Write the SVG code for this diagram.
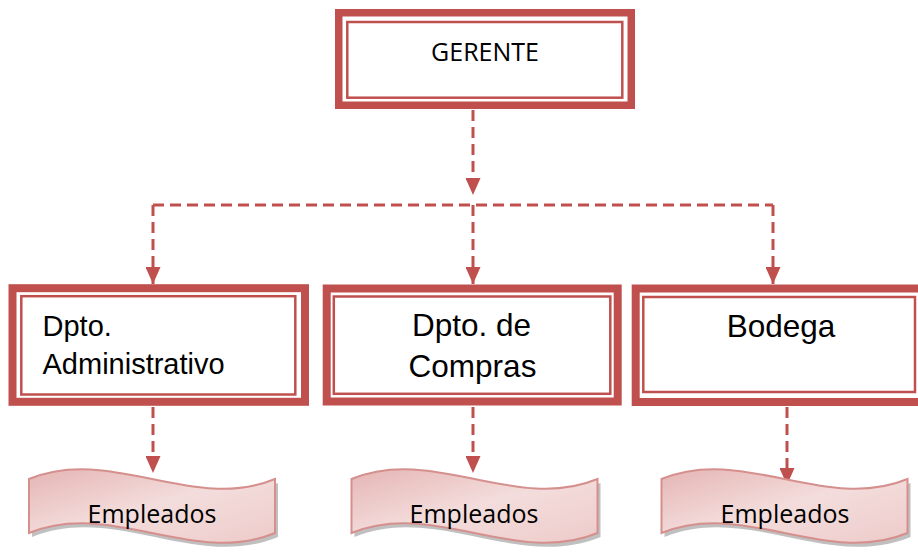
<svg xmlns="http://www.w3.org/2000/svg" width="918" height="553" viewBox="0 0 918 553">
<style>
.thick{fill:#fff;stroke:#C0504D;stroke-width:8}
.thin{fill:none;stroke:#C0504D;stroke-width:2.5}
.con{fill:none;stroke:#C0504D;stroke-width:3;stroke-dasharray:11 6}
.lbl{font-family:"Liberation Sans",Arial,sans-serif;fill:#000}
.cal{font-family:"Open Sans","Noto Sans",sans-serif;fill:#000;font-size:25px;text-anchor:middle}
.wave{fill:url(#pink);stroke:#D5908E;stroke-width:2}
.shadow{fill:#8c8c8c;opacity:0.55}
</style>
<defs>
<marker id="ah" viewBox="0 0 17 15" markerWidth="17" markerHeight="15" markerUnits="userSpaceOnUse" refX="17" refY="7.5" orient="auto">
<path d="M0,0 L17,7.5 L0,15 z" fill="#C0504D"/>
</marker>
<linearGradient id="pink" x1="0" y1="0" x2="1" y2="1">
<stop offset="0" stop-color="#E5B5B4"/>
<stop offset="0.5" stop-color="#F3DDDC"/>
<stop offset="1" stop-color="#EDCBCA"/>
</linearGradient>
<path id="wv" d="M0,9 C82,-25 164,43 246,9 L246,63 C164,97 82,29 0,63 Z"/>
</defs>

<g id="connectors">
<path class="con" d="M473,110 V195" marker-end="url(#ah)"/>
<path class="con" d="M153,205 H773"/>
<path class="con" d="M153,205 V284" marker-end="url(#ah)"/>
<path class="con" d="M473,205 V284" marker-end="url(#ah)"/>
<path class="con" d="M773,205 V284" marker-end="url(#ah)"/>
<path class="con" d="M153,407 V473" marker-end="url(#ah)"/>
<path class="con" d="M473,407 V473" marker-end="url(#ah)"/>
<path class="con" d="M787,407 V485" marker-end="url(#ah)"/>
</g>

<g id="gerente">
<rect class="thick" x="338.75" y="12.75" width="292.5" height="92.5" style="stroke-width:7.5"/>
<rect class="thin" x="347.3" y="22" width="275" height="75.7"/>
<text class="cal" x="485" y="61">GERENTE</text>
</g>

<g id="dpto-admin">
<rect class="thick" x="12.5" y="288.2" width="292.5" height="113.6"/>
<rect class="thin" x="21.3" y="296.2" width="274" height="98.3"/>
<text class="lbl" x="42.5" y="336" font-size="29">Dpto.</text>
<text class="lbl" x="42.5" y="373.5" font-size="29">Administrativo</text>
</g>

<g id="dpto-compras">
<rect class="thick" x="326.7" y="288.5" width="291" height="113"/>
<rect class="thin" x="333.8" y="296.5" width="276.5" height="97.3"/>
<text class="lbl" x="471.5" y="336" font-size="31.5" text-anchor="middle">Dpto. de</text>
<text class="lbl" x="472.5" y="377" font-size="31.5" text-anchor="middle">Compras</text>
</g>

<g id="bodega">
<rect class="thick" x="635.7" y="288.5" width="292" height="113.5"/>
<rect class="thin" x="643.3" y="297" width="271.7" height="95"/>
<text class="lbl" x="781" y="336.5" font-size="31.5" text-anchor="middle">Bodega</text>
</g>

<g id="empleados-1">
<use href="#wv" class="shadow" transform="translate(32,474)"/>
<use href="#wv" class="wave" transform="translate(29,470)"/>
<text class="cal" x="152" y="523">Empleados</text>
</g>

<g id="empleados-2">
<use href="#wv" class="shadow" transform="translate(354.5,474)"/>
<use href="#wv" class="wave" transform="translate(351.5,470)"/>
<text class="cal" x="474" y="523">Empleados</text>
</g>

<g id="empleados-3">
<use href="#wv" class="shadow" transform="translate(664.5,474)"/>
<use href="#wv" class="wave" transform="translate(661.5,470)"/>
<text class="cal" x="785" y="523">Empleados</text>
</g>
</svg>
